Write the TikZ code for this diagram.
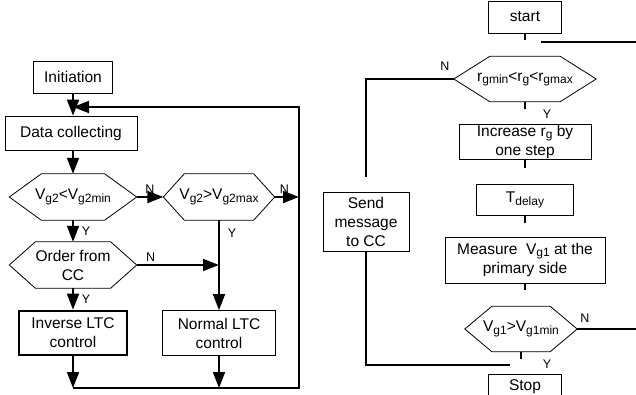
\documentclass[tikz,border=0pt]{standalone}
\usepackage{fontspec}
\setmainfont{Liberation Sans}
\usetikzlibrary{arrows.meta}
\newcommand{\sbs}[1]{\raisebox{-0.3ex}{\fontsize{12}{12}\selectfont #1}}
% frame of a hexagon around a named node
\newcommand{\hexframe}[2]{\draw[line width=0.8pt] (#1.west) -- ([xshift=#2]#1.north west)
  -- ([xshift=-#2]#1.north east) -- (#1.east) -- ([xshift=-#2]#1.south east)
  -- ([xshift=#2]#1.south west) -- cycle;}

\begin{document}
\begin{tikzpicture}[x=1pt,y=-1pt,
    font=\fontsize{15.5}{19}\selectfont,
    box/.style={draw,line width=0.8pt,align=center,inner sep=0pt},
    hexa/.style={align=center,inner sep=0pt},
    lbl/.style={font=\fontsize{12.5}{14}\selectfont,inner sep=1pt},
    arr/.style={line width=1.6pt,-{Triangle[length=16pt,width=12pt]}},
    ln/.style={line width=1.6pt},
    tk/.style={line width=1.2pt}]
        \useasboundingbox (0,0) rectangle (636,394);
        \clip (0,0) rectangle (636,394);
        % nodes (left)
        \node[box,minimum width=79,minimum height=32] (init) at (73,77) {Initiation};
        \node[box,minimum width=132,minimum height=34] (data) at (71,133) {Data collecting};
        \node[hexa,minimum width=127,minimum height=46] (hx1) at (73,197)
          {V\sbs{g2}<V\sbs{g2min}};
        \node[hexa,minimum width=111,minimum height=46] (hx2) at (219,197)
          {V\sbs{g2}>V\sbs{g2max}};
        \node[hexa,minimum width=127,minimum height=46] (hx3) at (73,265)
          {Order from\\CC};
        \node[box,line width=2.6pt,minimum width=108,minimum height=44] (inv) at (73,333)
          {Inverse LTC\\control};
        \node[box,minimum width=113,minimum height=45] (norm) at (219,333)
          {Normal LTC\\control};
        \coordinate (tl) at (73,107);
        \coordinate (tr) at (299,107);
        \coordinate (br) at (299,388);
        \coordinate (bl) at (73,388);
        % nodes (right)
        \node[box,minimum width=73,minimum height=32] (start) at (525,17) {start};
        \node[hexa,minimum width=142,minimum height=45] (hr) at (525,79)
          {r\sbs{gmin}<r\sbs{g}<r\sbs{gmax}};
        \node[box,minimum width=132,minimum height=35] (incr) at (525,142)
          {Increase r\sbs{g} by\\one step};
        \node[box,minimum width=97,minimum height=31] (tdel) at (525,200) {T\sbs{delay}};
        \node[box,minimum width=160,minimum height=46] (meas) at (525,260)
          {Measure\ \ V\sbs{g1} at the\\primary side};
        \node[hexa,minimum width=112,minimum height=45] (hv) at (521,329)
          {V\sbs{g1}>V\sbs{g1min}};
        \node[box,minimum width=73,minimum height=26] (stop) at (525,387) {Stop};
        \node[box,minimum width=86,minimum height=59] (send) at (366,222)
          {Send\\message\\to CC};
        \coordinate (ra) at (541,42);
        \coordinate (rb) at (636,42);
        \coordinate (rc) at (366,177);
        \coordinate (rd) at (636,329);
        \coordinate (re) at (510,365);
        % hexagons
        \hexframe{hx1}{32}
        \hexframe{hx2}{21}
        \hexframe{hx3}{26}
        \hexframe{hr}{36}
        \hexframe{hv}{27}
        % edges (left)
        \draw[arr] (init.south) -- (init.south |- data.north);
        \draw[arr] (bl) -- (br) -- (tr) -- (tl);
        \draw[arr] (hx1.north |- data.south) -- (hx1.north);
        \draw[arr] (hx1.east) -- node[lbl,above=2pt,pos=0.5]{N} (hx2.west);
        \draw[arr] (hx2.east) -- node[lbl,above=2pt,pos=0.4]{N} (hx2.east -| br);
        \draw[arr] (hx1.south) -- node[lbl,right=7pt]{Y} (hx3.north);
        \draw[arr] (hx3.east) -- node[lbl,above=2pt,pos=0.17]{N} (hx3.east -| norm.north);
        \draw[arr] (hx2.south) -- node[lbl,right=7pt,pos=0.14]{Y} (norm.north);
        \draw[arr] (hx3.south) -- node[lbl,right=7pt]{Y} (inv.north);
        \draw[arr] (inv.south) -- (inv.south |- bl);
        \draw[arr] (norm.south) -- (norm.south |- bl);
        % edges (right)
        \draw[tk] (start.south) -- ++(0,7);
        \draw[ln] (ra) -- (rb);
        \draw[ln] (hr.west) -- (hr.west -| rc) -- (rc);
        \draw[tk] (hr.south) -- ++(0,7);
        \draw[tk] (incr.south) -- ++(0,8);
        \draw[tk] (tdel.south) -- ++(0,7);
        \draw[tk] (meas.south) -- ++(0,7);
        \draw[ln] (hv.east) -- (rd);
        \draw[tk] (hv.south) -- ++(0,7);
        \draw[ln] (send.south) -- (send.south |- re) -- (re);
        % labels
        \node[lbl] (nr) at (445,66) {N};
        \node[lbl] (yr) at (547,114) {Y};
        \node[lbl] (nv) at (585,318) {N};
        \node[lbl] (yv) at (547,364) {Y};
\end{tikzpicture}
\end{document}
